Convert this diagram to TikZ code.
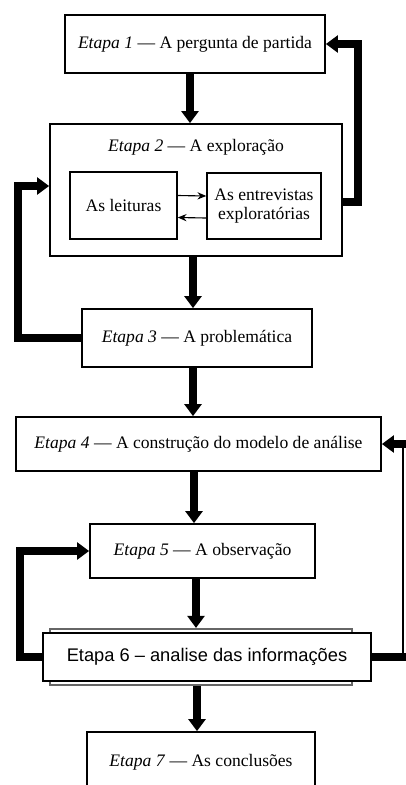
\documentclass[tikz,border=0pt]{standalone}
\usepackage{fontspec}
\setmainfont{Liberation Serif}
\newfontfamily\arialfont{Liberation Sans}
\usepackage{tikz}
\usetikzlibrary{arrows.meta,positioning,calc}

\begin{document}
\begin{tikzpicture}[x=0.025cm, y=-0.025cm,
    etapa/.style={rectangle, draw=black, line width=1.2pt, fill=white,
                  inner sep=2pt, font=\fontsize{12.5}{15}\selectfont},
    inbox/.style={rectangle, draw=black, line width=1pt, fill=white, align=center,
                  inner sep=2pt, font=\fontsize{12.5}{14}\selectfont},
    big/.style={-{Triangle[length=0.3cm, width=0.42cm]}, line width=5.8pt},
    fb/.style={big, line join=miter},
    thin/.style={-{Stealth[length=2.2mm, width=1.8mm]}, line width=0.8pt}]
\clip (0,0) rectangle (406,785);
% stages
\node[etapa, minimum width=6.5cm, minimum height=1.45cm] (s1) at (195,44) {\textit{Etapa 1} --- A pergunta de partida};
\node[etapa, minimum width=7.3cm, minimum height=3.3cm] (s2) at (196,190) {};
\node[font=\fontsize{12.5}{15}\selectfont] (t2) at (196,147) {\textit{Etapa 2} --- A exploração};
\node[inbox, minimum width=2.675cm, minimum height=1.675cm] (lei) at (123.5,205.5) {As leituras};
\node[inbox, minimum width=2.85cm, minimum height=1.65cm] (ent) at (264,206) {As entrevistas\\exploratórias};
\node[etapa, minimum width=5.75cm, minimum height=1.45cm] (s3) at (197,338) {\textit{Etapa 3} --- A problemática};
\node[etapa, minimum width=9.125cm, minimum height=1.35cm] (s4) at (198.5,444) {\textit{Etapa 4} --- A construção do modelo de análise};
\node[etapa, minimum width=5.625cm, minimum height=1.35cm] (s5) at (202.5,551) {\textit{Etapa 5} --- A observação};
% old stage 6 box showing behind the new one
\node[rectangle, draw=black!60, line width=1.5pt, minimum width=7.55cm, minimum height=1.4cm] (old6) at (201,657) {};
\node[etapa, line width=1pt, minimum width=8.2cm, minimum height=1.2cm, font=\arialfont\fontsize{13}{15}\selectfont] (s6) at (207,657) {Etapa 6 – analise das informações};
\node[etapa, minimum width=5.7cm, minimum height=1.55cm] (s7) at (201,763) {};
\node[font=\fontsize{12.5}{15}\selectfont] (t7) at (201,762) {\textit{Etapa 7} --- As conclusões};
% main flow
\draw[big] (s1.south -| 190,0) -- (190,0 |- s2.north);
\draw[big] (s2.south -| 193,0) -- (193,0 |- s3.north);
\draw[big] (s3.south -| 193,0) -- (193,0 |- s4.north);
\draw[big] (s4.south -| 194,0) -- (194,0 |- s5.north);
\draw[big] (s5.south -| 196,0) -- (196,0 |- old6.north);
\draw[big] (old6.south -| 197,0) -- (197,0 |- s7.north);
% inside stage 2
\draw[thin] ($(lei.east)+(0,-10)$) -- ($(ent.west)+(0,-10)$);
\draw[thin] ($(ent.west)+(0,12)$) -- ($(lei.east)+(0,12)$);
% feedback loops
\draw[fb] ($(s2.east)+(0,12)$) -| (358,120) |- (s1.east);
\draw[fb] (s3.west) -| (18,250) |- ($(s2.west)+(0,-4)$);
\draw[fb] (s6.east) -| (414,550) |- (s4.east);
\draw[line width=1.2pt] (403,444) -- (403,657);
\draw[fb] (s6.west) -| (20,600) |- (s5.west);
\end{tikzpicture}
\end{document}
